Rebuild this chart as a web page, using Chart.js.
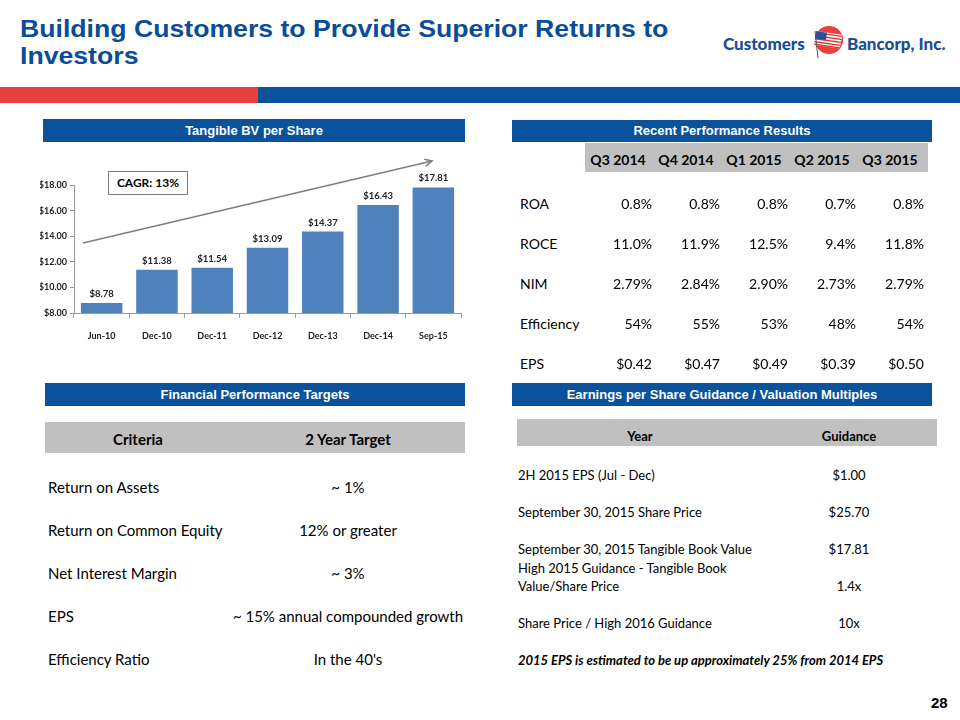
<!DOCTYPE html>
<html><head><meta charset="utf-8">
<script src="https://cdn.jsdelivr.net/npm/chart.js@4.4.1/dist/chart.umd.min.js"></script>
<style>
body{margin:0;width:960px;height:720px;position:relative;background:#fff;overflow:hidden;font-family:Lato,"Open Sans",sans-serif;}
.title{position:absolute;left:20px;font:bold 24px "Liberation Sans",Arial,sans-serif;color:#0b4c97;line-height:27px;height:27px;white-space:nowrap;transform:scaleX(1.11);transform-origin:0 0;}
.hdr{position:absolute;background:#0a529b;color:#fff;font:bold 13px "Liberation Sans",Arial,sans-serif;text-align:center;line-height:23px;height:23px;}
.gray{position:absolute;background:#c0c0c0;}
.cell{position:absolute;white-space:nowrap;color:#000;height:20px;line-height:20px;}
.logo{position:absolute;font:900 17px Lato,sans-serif;color:#1b4d94;white-space:nowrap;line-height:20px;}
#chartBox{position:absolute;left:40px;top:150px;width:430px;height:195px;}
.cagr{position:absolute;left:108px;top:171px;width:78px;height:22px;border:1.5px solid #7f7f7f;background:#fff;font:bold 12px Lato,sans-serif;line-height:22px;text-align:center;color:#000;}
.pnum{position:absolute;left:931px;top:694px;font:bold 15px "Liberation Sans",Arial,sans-serif;color:#000;}
</style>
</head>
<body>
<div class="title" style="top:15px;">Building Customers to Provide Superior Returns to</div>
<div class="title" style="top:42px;">Investors</div>

<div class="logo" style="left:723px;top:34px;">Customers</div>
<svg style="position:absolute;left:809px;top:24px;" width="40" height="36" viewBox="0 0 40 36">
  <circle cx="20" cy="16" r="14" fill="#e8403f"/>
  <g transform="rotate(8 20 16)">
    <rect x="6" y="9" width="26" height="14" fill="#fff"/>
    <rect x="6" y="10" width="26" height="1.4" fill="#d33"/>
    <rect x="6" y="13" width="26" height="1.4" fill="#d33"/>
    <rect x="6" y="16" width="26" height="1.4" fill="#d33"/>
    <rect x="6" y="19" width="26" height="1.4" fill="#d33"/>
    <rect x="6" y="21.6" width="26" height="1.4" fill="#d33"/>
    <rect x="6" y="9" width="11" height="7.5" fill="#2a4f9a"/>
  </g>
  <line x1="6" y1="7" x2="9" y2="34" stroke="#555" stroke-width="1"/>
</svg>
<div class="logo" style="left:847px;top:34px;">Bancorp, Inc.</div>

<div style="position:absolute;left:0;top:87px;width:258px;height:16px;background:#e8403f;"></div>
<div style="position:absolute;left:258px;top:87px;width:702px;height:16px;background:#0a529b;"></div>

<div class="hdr" style="left:43px;top:119px;width:422px;">Tangible BV per Share</div>
<div id="chartBox"><canvas id="c"></canvas></div>
<div class="cagr">CAGR: 13%</div>

<div class="hdr" style="left:512px;top:120px;width:420px;height:22px;line-height:22px;">Recent Performance Results</div>
<div class="gray" style="left:585px;top:143px;width:343px;height:29px;"></div>
<div id="perf"></div>

<div class="hdr" style="left:45px;top:383px;width:420px;">Financial Performance Targets</div>
<div class="gray" style="left:45px;top:422px;width:420px;height:31px;"></div>
<div id="targets"></div>

<div class="hdr" style="left:512px;top:383px;width:420px;">Earnings per Share Guidance / Valuation Multiples</div>
<div class="gray" style="left:517px;top:419px;width:420px;height:27px;"></div>
<div id="guide"></div>

<div class="pnum">28</div>

<script>
// ---- Chart data ----
const categories = ['Jun-10','Dec-10','Dec-11','Dec-12','Dec-13','Dec-14','Sep-15'];
const tbvValues = [8.78, 11.38, 11.54, 13.09, 14.37, 16.43, 17.81];
const yTickValues = [8, 10, 12, 14, 16, 18];

// ---- Table data ----
const perfQuarters = ['Q3 2014','Q4 2014','Q1 2015','Q2 2015','Q3 2015'];
const perfMetrics = ['ROA','ROCE','NIM','Efficiency','EPS'];
const perfROA = ['0.8%','0.8%','0.8%','0.7%','0.8%'];
const perfROCE = ['11.0%','11.9%','12.5%','9.4%','11.8%'];
const perfNIM = ['2.79%','2.84%','2.90%','2.73%','2.79%'];
const perfEff = ['54%','55%','53%','48%','54%'];
const perfEPS = ['$0.42','$0.47','$0.49','$0.39','$0.50'];

const targetHeaders = ['Criteria','2 Year Target'];
const targetCriteria = ['Return on Assets','Return on Common Equity','Net Interest Margin','EPS','Efficiency Ratio'];
const targetValues = ['~ 1%','12% or greater','~ 3%','~ 15% annual compounded growth',"In the 40's"];

const guideHeaders = ['Year','Guidance'];
const guideItems = ['2H 2015 EPS (Jul - Dec)','September 30, 2015 Share Price','September 30, 2015 Tangible Book Value','High 2015 Guidance - Tangible Book|Value/Share Price','Share Price / High 2016 Guidance'];
const guideValues = ['$1.00','$25.70','$17.81','1.4x','10x'];
const guideNote = '2015 EPS is estimated to be up approximately 25% from 2014 EPS';

// ---- Build tables ----
function cell(parent, text, x, yc, opts) {
  const d = document.createElement('div');
  d.className = 'cell';
  d.textContent = text;
  d.style.top = (yc - 10) + 'px';
  d.style.fontSize = (opts.size || 14) + 'px';
  if (opts.bold) d.style.fontWeight = 'bold';
  if (opts.italic) d.style.fontStyle = 'italic';
  if (opts.align === 'right') { d.style.left = (x - 200) + 'px'; d.style.width = '200px'; d.style.textAlign = 'right'; }
  else if (opts.align === 'center') { d.style.left = (x - 150) + 'px'; d.style.width = '300px'; d.style.textAlign = 'center'; }
  else d.style.left = x + 'px';
  parent.appendChild(d);
}

const perf = document.getElementById('perf');
const colRight = [652, 720, 788, 856, 924];
perfQuarters.forEach((q, i) => cell(perf, q, colRight[i] - 34, 160, {size:14, bold:true, align:'center'}));
const perfRows = [perfROA, perfROCE, perfNIM, perfEff, perfEPS];
const perfY = [204, 244, 284, 324, 364];
perfMetrics.forEach((m, r) => {
  cell(perf, m, 520, perfY[r], {size:14});
  perfRows[r].forEach((v, i) => cell(perf, v, colRight[i], perfY[r], {size:14, align:'right'}));
});

const tg = document.getElementById('targets');
cell(tg, targetHeaders[0], 138, 439, {size:15, bold:true, align:'center'});
cell(tg, targetHeaders[1], 348, 439, {size:15, bold:true, align:'center'});
const tgY = [487, 530, 573, 616, 659];
targetCriteria.forEach((c, r) => {
  cell(tg, c, 48, tgY[r], {size:15});
  cell(tg, targetValues[r], 348, tgY[r], {size:15, align:'center'});
});

const gd = document.getElementById('guide');
cell(gd, guideHeaders[0], 640, 436, {size:13, bold:true, align:'center'});
cell(gd, guideHeaders[1], 849, 436, {size:13, bold:true, align:'center'});
const gdY = [475, 512, 549, 586, 623];
guideItems.forEach((t, r) => {
  const parts = t.split('|');
  if (parts.length === 2) {
    cell(gd, parts[0], 518, gdY[r] - 18, {size:13});
    cell(gd, parts[1], 518, gdY[r], {size:13});
  } else cell(gd, t, 518, gdY[r], {size:13});
  cell(gd, guideValues[r], 849, gdY[r], {size:13, align:'center'});
});
cell(gd, guideNote, 518, 660, {size:13, bold:true, italic:true});

// ---- Chart ----
const barLabels = {
  id: 'barLabels',
  afterDatasetsDraw(chart) {
    const ctx = chart.ctx;
    const meta = chart.getDatasetMeta(0);
    ctx.save();
    ctx.font = 'bold 9.5px Lato, sans-serif';
    ctx.fillStyle = '#222';
    ctx.textAlign = 'center';
    ctx.textBaseline = 'middle';
    meta.data.forEach((el, i) => {
      ctx.fillText('$' + tbvValues[i].toFixed(2), el.x, el.y - 9);
    });
    ctx.restore();
  }
};
const trendArrow = {
  id: 'trendArrow',
  afterDraw(chart) {
    const a = chart.chartArea;
    const ctx = chart.ctx;
    const x1 = a.left + 9, y1 = a.top + 58;
    const x2 = a.left + 358, y2 = a.top - 24;
    ctx.save();
    ctx.strokeStyle = '#7f7f7f';
    ctx.lineWidth = 1.6;
    ctx.beginPath(); ctx.moveTo(x1, y1); ctx.lineTo(x2, y2); ctx.stroke();
    const ang = Math.atan2(y2 - y1, x2 - x1);
    const L = 8;
    ctx.beginPath();
    ctx.moveTo(x2 - L * Math.cos(ang - 0.45), y2 - L * Math.sin(ang - 0.45));
    ctx.lineTo(x2, y2);
    ctx.lineTo(x2 - L * Math.cos(ang + 0.45), y2 - L * Math.sin(ang + 0.45));
    ctx.stroke();
    ctx.restore();
  }
};

new Chart(document.getElementById('c'), {
  type: 'bar',
  data: {
    labels: categories,
    datasets: [{
      data: tbvValues,
      backgroundColor: '#4f81bd',
      borderWidth: 0,
      categoryPercentage: 1,
      barPercentage: 0.75
    }]
  },
  options: {
    responsive: true,
    maintainAspectRatio: false,
    animation: false,
    layout: { padding: { top: 35, right: 9, left: 0, bottom: 0 } },
    plugins: { legend: { display: false }, tooltip: { enabled: false } },
    scales: {
      x: {
        grid: { drawOnChartArea: false, tickLength: 5, color: '#9a9a9a', offset: true },
        border: { color: '#9a9a9a' },
        ticks: { font: { family: 'Lato', size: 9, weight: 'bold' }, color: '#222', padding: 13, maxRotation: 0 },
        afterFit(s) { s.height = 32; }
      },
      y: {
        min: 8, max: 18,
        afterBuildTicks(s) { s.ticks = yTickValues.map(v => ({ value: v })); },
        grid: { drawOnChartArea: false, tickLength: 4, color: '#9a9a9a' },
        border: { color: '#9a9a9a' },
        ticks: { font: { family: 'Lato', size: 9, weight: 'bold' }, color: '#222', padding: 3,
          callback: v => '$' + Number(v).toFixed(2) },
        afterFit(s) { s.width = 34; }
      }
    }
  },
  plugins: [barLabels, trendArrow]
});
</script>
</body></html>
